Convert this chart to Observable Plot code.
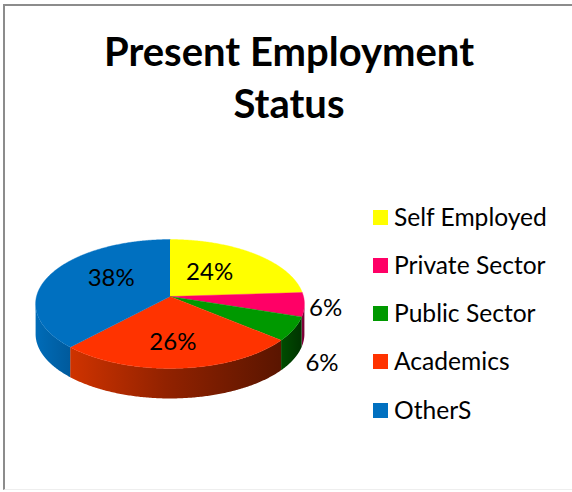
<!DOCTYPE html>
<html>
<head>
<meta charset="utf-8">
<script src="https://cdn.jsdelivr.net/npm/d3@7"></script>
<script src="https://cdn.jsdelivr.net/npm/@observablehq/plot@0.6"></script>
<style>
  html, body { margin: 0; padding: 0; background: #fff; }
  #page { position: relative; width: 572px; height: 492px; overflow: hidden; font-family: Lato, "Noto Sans", sans-serif; color: #000; }
  #frame { position: absolute; left: 3px; top: 4px; width: 580px; height: 486px; border-left: 2px solid #8c8c8c; border-top: 2px solid #8c8c8c; border-bottom: 1px solid #eee; box-sizing: border-box; }
  #title { position: absolute; left: 5px; top: 25px; width: 568px; text-align: center; font-weight: 700; font-size: 40px; line-height: 52px; }
  #chart { position: absolute; left: 0; top: 200px; }
  #legend { position: absolute; left: 373px; top: 192px; }
  .item { display: flex; align-items: center; height: 48.25px; font-size: 24.6px; white-space: nowrap; }
  .swatch { width: 15px; height: 15px; margin-right: 6px; flex: none; position: relative; top: 1px; }
</style>
</head>
<body>
<div id="page">
  <div id="frame"></div>
  <div id="title">Present Employment<br>Status</div>
  <div id="chart"></div>
  <div id="legend"></div>
</div>
<script>
const categories = ["Self Employed", "Private Sector", "Public Sector", "Academics", "OtherS"];
const shares = [24, 6, 6, 26, 38];
const colors = ["#ffff00", "#ff0066", "#009900", "#ff3300", "#0070c0"];
const wallColors = ["#808000", "url(#wall-pink)", "url(#wall-green)", "url(#wall-red)", "url(#wall-blue)"];

// Perspective view of the disc, from shares around a unit circle
const tilt = -0.116;
const wallDepth = 0.472;
const project = (r, a) => {
  const u = r * Math.sin(a), v = -r * Math.cos(a), w = 1 + tilt * v;
  return [u / w, v / w];
};
const total = d3.sum(shares);
const cum = d3.cumsum(shares);
const spans = shares.map((s, i) => [(cum[i] - s) / total * 2 * Math.PI, cum[i] / total * 2 * Math.PI]);
const arc = (a0, a1) => {
  const n = Math.max(2, Math.ceil((a1 - a0) / 0.01));
  return d3.range(n + 1).map(i => a0 + (a1 - a0) * i / n);
};
const slices = spans.map(([a0, a1]) => [[0, 0], ...arc(a0, a1).map(a => project(1, a))]);
const wallFrom = 96 * Math.PI / 180, wallTo = 264 * Math.PI / 180;
const walls = spans.map(([a0, a1], i) => {
  const s = Math.max(a0, wallFrom), e = Math.min(a1, wallTo);
  if (e <= s) return null;
  const top = arc(s, e).map(a => project(1, a));
  return {i, pts: [...top, ...top.slice().reverse().map(([x, y]) => [x, y + wallDepth])]};
}).filter(Boolean);

const labelRadius = [0.45, 1.17, 1.3, 0.65, 0.45];
const labelDx = [0, -2, -12, -3, -4];
const labelDy = [-4, 2, 24, 1, -8];
const labels = shares.map((s, i) => {
  const [x, y] = project(labelRadius[i], (spans[i][0] + spans[i][1]) / 2);
  return {x, y, text: s + "%", dx: labelDx[i], dy: labelDy[i]};
});

const gradient = (id, stops) => {
  const g = document.createElementNS("http://www.w3.org/2000/svg", "linearGradient");
  g.setAttribute("id", id);
  stops.forEach(([o, c]) => {
    const s = document.createElementNS("http://www.w3.org/2000/svg", "stop");
    s.setAttribute("offset", o);
    s.setAttribute("stop-color", c);
    g.appendChild(s);
  });
  return g;
};
const defsMark = () => {
  const d = document.createElementNS("http://www.w3.org/2000/svg", "defs");
  d.appendChild(gradient("wall-red", [[0, "#cf3300"], [0.45, "#922200"], [1, "#5a1500"]]));
  d.appendChild(gradient("wall-blue", [[0, "#006cb8"], [1, "#005a9c"]]));
  d.appendChild(gradient("wall-green", [[0, "#004d00"], [1, "#003300"]]));
  d.appendChild(gradient("wall-pink", [[0, "#8a0040"], [1, "#70002f"]]));
  return d;
};

const chart = Plot.plot({
  width: 358,
  height: 260,
  margin: 0,
  x: {domain: [-1, 1], range: [36, 303], axis: null},
  y: {domain: [-1, 1], range: [32.4, 159.6], axis: null},
  marks: [
    defsMark,
    ...walls.map(w => Plot.line(w.pts, {x: d => d[0], y: d => d[1], fill: wallColors[w.i], stroke: "none"})),
    ...slices.map((p, i) => Plot.line(p, {x: d => d[0], y: d => d[1], fill: colors[i], stroke: colors[i], strokeWidth: 0.4})),
    ...labels.map(l => Plot.text([l], {x: "x", y: "y", text: "text", dx: l.dx, dy: l.dy, fontSize: 24, fill: "#000", fontFamily: "Lato, sans-serif"}))
  ]
});
document.getElementById("chart").appendChild(chart);

const legend = document.getElementById("legend");
categories.forEach((c, i) => {
  const row = document.createElement("div");
  row.className = "item";
  const sw = document.createElement("span");
  sw.className = "swatch";
  sw.style.background = colors[i];
  const t = document.createElement("span");
  t.textContent = c;
  row.append(sw, t);
  legend.appendChild(row);
});
</script>
</body>
</html>
